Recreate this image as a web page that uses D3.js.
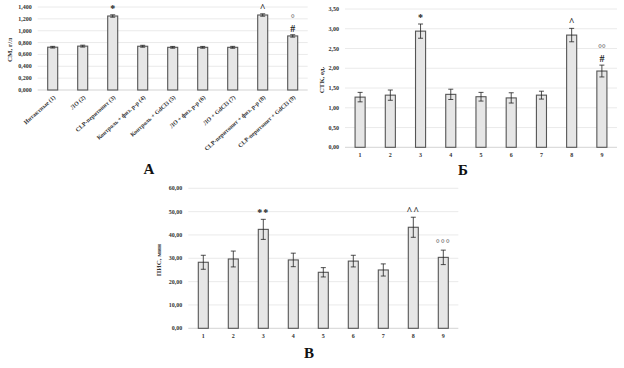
<!DOCTYPE html>
<html>
<head>
<meta charset="utf-8">
<script src="https://cdn.jsdelivr.net/npm/d3@7"></script>
<style>
  body { margin: 0; background: #fff; }
  text { font-family: "Liberation Serif", "DejaVu Serif", serif; font-weight: bold; }
</style>
</head>
<body>
<script>
const width = 624;
const height = 368;

// Panel A: CM, g/l
const groupsA = ["Интактные (1)", "ЛО (2)", "CLP-перитонит (3)", "Контроль + физ. р-р (4)",
    "Контроль + GdCl3 (5)", "ЛО + физ. р-р (6)", "ЛО + GdCl3 (7)",
    "CLP-перитонит + физ. р-р (8)", "CLP-перитонит + GdCl3 (9)"];
const valuesA = [0.722, 0.740, 1.248, 0.738, 0.720, 0.720, 0.720, 1.265, 0.912];
const errorsA = [0.014, 0.016, 0.020, 0.016, 0.015, 0.015, 0.016, 0.020, 0.020];
const marksA = ["", "", "*", "", "", "", "", "^", "#"];
const marksA2 = ["", "", "", "", "", "", "", "", "°"];
const ticksA = [0, 0.2, 0.4, 0.6, 0.8, 1.0, 1.2, 1.4];

// Panel Б: СТК, ед.
const groupsB = ["1", "2", "3", "4", "5", "6", "7", "8", "9"];
const valuesB = [1.27, 1.32, 2.94, 1.34, 1.28, 1.25, 1.32, 2.84, 1.93];
const errorsB = [0.12, 0.13, 0.18, 0.13, 0.11, 0.13, 0.10, 0.17, 0.15];
const marksB = ["", "", "*", "", "", "", "", "^", "#"];
const marksB2 = ["", "", "", "", "", "", "", "", "°°"];
const ticksB = [0, 0.5, 1.0, 1.5, 2.0, 2.5, 3.0, 3.5];

// Panel В: ПИС, мин
const groupsC = ["1", "2", "3", "4", "5", "6", "7", "8", "9"];
const valuesC = [28.3, 29.7, 42.4, 29.3, 24.0, 28.8, 25.0, 43.3, 30.4];
const errorsC = [3.0, 3.4, 4.3, 2.9, 2.0, 2.5, 2.6, 4.3, 3.1];
const marksC = ["", "", "**", "", "", "", "", "^^", "°°°"];
const marksC2 = ["", "", "", "", "", "", "", "", ""];
const ticksC = [0, 10, 20, 30, 40, 50, 60];

const locale = d3.formatLocale({ decimal: ",", thousands: " ", grouping: [3], currency: ["", ""] });

const svg = d3.select("body").append("svg")
    .attr("width", width)
    .attr("height", height);

function drawPanel(p) {
    const x = d3.scaleBand()
        .domain(p.groups)
        .range([p.left, p.right])
        .paddingInner(2 / 3)
        .paddingOuter(1 / 3);
    const y = d3.scaleLinear()
        .domain([0, p.ticks[p.ticks.length - 1]])
        .range([p.bottom, p.top]);
    const fmt = locale.format(p.fmt);
    const g = svg.append("g");

    // gridlines
    g.append("g").selectAll("line")
        .data(p.ticks)
        .join("line")
        .attr("x1", p.left).attr("x2", p.right)
        .attr("y1", d => y(d)).attr("y2", d => y(d))
        .attr("stroke", d => d === 0 ? "#c8c8c8" : "#e4e4e4")
        .attr("stroke-width", 0.8);

    // y axis labels
    g.append("g").selectAll("text")
        .data(p.ticks)
        .join("text")
        .attr("x", p.left - 6)
        .attr("y", d => y(d) + 2)
        .attr("text-anchor", "end")
        .attr("font-size", 6)
        .attr("fill", "#333")
        .text(d => fmt(d));

    // bars
    g.append("g").selectAll("rect")
        .data(p.values)
        .join("rect")
        .attr("x", (d, i) => x(p.groups[i]))
        .attr("y", d => y(d))
        .attr("width", x.bandwidth())
        .attr("height", d => p.bottom - y(d))
        .attr("fill", "#e6e6e6")
        .attr("stroke", "#555")
        .attr("stroke-width", 1.1);

    // error bars
    const eb = g.append("g").attr("stroke", "#222").attr("stroke-width", 0.8);
    p.values.forEach((v, i) => {
        const cx = x(p.groups[i]) + x.bandwidth() / 2;
        const e = p.errors[i];
        eb.append("line").attr("x1", cx).attr("x2", cx).attr("y1", y(v - e)).attr("y2", y(v + e));
        eb.append("line").attr("x1", cx - 2.5).attr("x2", cx + 2.5).attr("y1", y(v - e)).attr("y2", y(v - e));
        eb.append("line").attr("x1", cx - 2.5).attr("x2", cx + 2.5).attr("y1", y(v + e)).attr("y2", y(v + e));
    });

    // significance marks
    p.values.forEach((v, i) => {
        const cx = x(p.groups[i]) + x.bandwidth() / 2;
        const base = y(v + p.errors[i]) - 3;
        if (p.marks[i]) {
            g.append("text")
                .attr("x", cx).attr("y", base)
                .attr("text-anchor", "middle")
                .attr("font-size", 10)
                .attr("font-weight", p.marks[i].startsWith("°") || p.marks[i].startsWith("^") ? "normal" : "bold")
                .attr("fill", p.marks[i].startsWith("°") ? "#777" : "#222")
                .attr("letter-spacing", p.marks[i].length > 1 ? 1 : 0)
                .text(p.marks[i]);
        }
        if (p.marks2[i]) {
            g.append("text")
                .attr("x", cx).attr("y", base - 10)
                .attr("text-anchor", "middle")
                .attr("font-size", 10)
                .attr("font-weight", "normal")
                .attr("fill", "#777")
                .text(p.marks2[i]);
        }
    });

    // x labels
    if (p.rotate) {
        g.append("g").selectAll("text")
            .data(p.groups)
            .join("text")
            .attr("transform", d => `translate(${x(d) + x.bandwidth() / 2 + 3},${p.bottom + 8}) rotate(-42)`)
            .attr("text-anchor", "end")
            .attr("font-size", 6)
            .attr("fill", "#333")
            .text(d => d);
    } else {
        g.append("g").selectAll("text")
            .data(p.groups)
            .join("text")
            .attr("x", d => x(d) + x.bandwidth() / 2)
            .attr("y", p.bottom + 10)
            .attr("text-anchor", "middle")
            .attr("font-size", 6)
            .attr("fill", "#333")
            .text(d => d);
    }

    // y title
    g.append("text")
        .attr("transform", `translate(${p.titleX},${p.titleY}) rotate(-90)`)
        .attr("text-anchor", "middle")
        .attr("font-size", 7)
        .attr("fill", "#333")
        .text(p.title);

    // panel letter
    g.append("text")
        .attr("x", p.letterX).attr("y", p.letterY)
        .attr("text-anchor", "middle")
        .attr("font-size", 15)
        .attr("fill", "#111")
        .text(p.letter);
}

drawPanel({
    groups: groupsA, values: valuesA, errors: errorsA, marks: marksA, marks2: marksA2, ticks: ticksA,
    left: 37.7, right: 307.7, top: 7, bottom: 90, fmt: ".3f", rotate: true,
    title: "СМ, г/л", titleX: 12, titleY: 50, letter: "А", letterX: 149, letterY: 174
});

drawPanel({
    groups: groupsB, values: valuesB, errors: errorsB, marks: marksB, marks2: marksB2, ticks: ticksB,
    left: 345, right: 617, top: 9, bottom: 147.3, fmt: ".2f", rotate: false,
    title: "СТК, ед.", titleX: 324, titleY: 80, letter: "Б", letterX: 463, letterY: 175
});

drawPanel({
    groups: groupsC, values: valuesC, errors: errorsC, marks: marksC, marks2: marksC2, ticks: ticksC,
    left: 188.3, right: 458.3, top: 188.3, bottom: 328.3, fmt: ".2f", rotate: false,
    title: "ПИС, мин", titleX: 161, titleY: 260, letter: "В", letterX: 309, letterY: 358
});
</script>
</body>
</html>
